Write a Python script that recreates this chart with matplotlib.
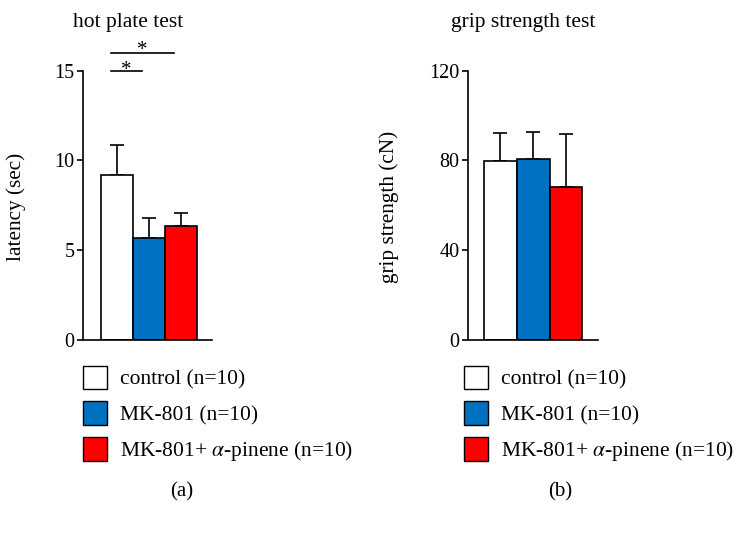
import matplotlib.pyplot as plt
from matplotlib.patches import Patch

plt.rcParams['font.family'] = ['Liberation Serif', 'DejaVu Serif']
plt.rcParams['mathtext.fontset'] = 'stix'

# datos
grupos = ['control (n=10)', 'MK-801 (n=10)', r'MK-801+ $\alpha$-pinene (n=10)']
colores = ['#FFFFFF', '#0070C0', '#FF0000']

latencia = [9.2, 5.66, 6.36]
latencia_err = [1.65, 1.11, 0.74]

fuerza = [79.8, 80.8, 68.0]
fuerza_err = [12.3, 11.7, 23.9]

W, H = 753, 535


def px_ax(fig, x0, x1, ytop, ybot):
    return fig.add_axes([x0 / W, (H - ybot) / H, (x1 - x0) / W, (ybot - ytop) / H])


def barras(ax, valores, errores, ymax, ticks, xlim):
    x = range(len(valores))
    ax.bar(x, valores, width=1.0, color=colores, edgecolor='black', linewidth=1.2, zorder=2)
    ax.errorbar(x, valores, yerr=[[0] * len(errores), errores], fmt='none',
                ecolor='black', elinewidth=1.2, capsize=4.9, capthick=1.2, zorder=1)
    ax.set_ylim(0, ymax)
    ax.set_xlim(*xlim)
    ax.set_yticks(ticks)
    ax.set_xticks([])
    ax.spines['top'].set_visible(False)
    ax.spines['right'].set_visible(False)
    ax.spines['left'].set_linewidth(1.2)
    ax.spines['bottom'].set_linewidth(1.2)
    ax.tick_params(axis='y', direction='out', length=4, width=1.2, labelsize=14.5, pad=2)


fig = plt.figure(figsize=(W / 100, H / 100), dpi=100)

# (a) hot plate
ax1 = px_ax(fig, 83, 212, 70.7, 340)
barras(ax1, latencia, latencia_err, 15, [0, 5, 10, 15], (-1.05, 2.98))
ax1.set_ylabel('latency (sec)', fontsize=15.3)
ax1.yaxis.set_label_coords(-0.44, 0.494)
ax1.plot([-0.19, 0.78], [15.0, 15.0], color='black', lw=1.2, clip_on=False)
ax1.plot([-0.19, 1.78], [16.0, 16.0], color='black', lw=1.2, clip_on=False)
ax1.text(0.29, 14.75, '*', ha='center', va='baseline', fontsize=15, clip_on=False)
ax1.text(0.81, 15.9, '*', ha='center', va='baseline', fontsize=15, clip_on=False)

# (b) grip strength
ax2 = px_ax(fig, 467.7, 598, 70.7, 340)
barras(ax2, fuerza, fuerza_err, 120, [0, 40, 80, 120], (-1.0, 2.98))
ax2.set_ylabel('grip strength (cN)', fontsize=15.3)
ax2.yaxis.set_label_coords(-0.527, 0.494)

fig.text(128 / W, 1 - 22 / H, 'hot plate test', ha='center', va='center', fontsize=15.5)
fig.text(523 / W, 1 - 22 / H, 'grip strength test', ha='center', va='center', fontsize=15.5)

handles = [Patch(facecolor=c, edgecolor='black', linewidth=1.0) for c in colores]
for xl in [82.7 / W, 464 / W]:
    fig.legend(handles, grupos, loc='upper left', bbox_to_anchor=(xl, 1 - 365.5 / H),
               frameon=False, fontsize=15.5, handlelength=1.12, handleheight=1.3,
               handletextpad=0.6, labelspacing=0.55, borderpad=0, borderaxespad=0)

fig.text(181.7 / W, 1 - 492 / H, '(a)', ha='center', va='center', fontsize=15)
fig.text(560 / W, 1 - 492 / H, '(b)', ha='center', va='center', fontsize=15)

fig.savefig('out.png', dpi=100)
